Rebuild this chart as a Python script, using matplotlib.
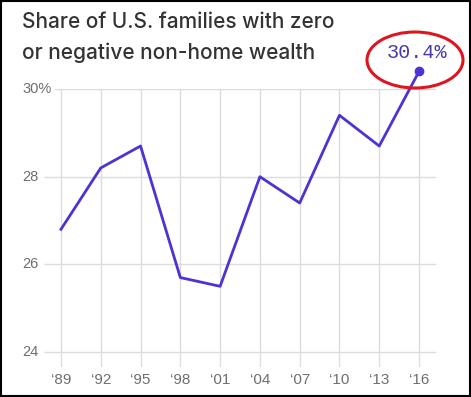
import matplotlib.pyplot as plt
from matplotlib.patches import Ellipse, Rectangle

# share of families with zero / negative non-home wealth (%)
years = [1989, 1992, 1995, 1998, 2001, 2004, 2007, 2010, 2013, 2016]
share = [26.8, 28.2, 28.7, 25.7, 25.5, 28.0, 27.4, 29.4, 28.7, 30.4]
year_labels = ["\u2018" + str(y)[2:] for y in years]
y_ticks = [24, 26, 28, 30]
y_labels = ["24", "26", "28", "30%"]

line_color = "#4b33d4"
grid_color = "#dcdcdc"
text_gray = "#6e6e6e"

fig = plt.figure(figsize=(4.71, 3.97), dpi=100)
ax = fig.add_axes([44 / 471, 30 / 397, 392 / 471, 278 / 397])
ax.set_xlim(1987.72, 2017.28)
ax.set_ylim(23.66, 30)
ax.axis("off")

# grid
ax.vlines(years, 23.66, 30, color=grid_color, lw=1, zorder=1)
for t in y_ticks:
    x0 = 1987.72 if t != 30 else 1988.5
    ax.hlines(t, x0, 2017.28, color=grid_color, lw=1, zorder=1)

ax.plot(years, share, color=line_color, lw=2, zorder=3, clip_on=False)
ax.plot(years[-1], share[-1], "o", color=line_color, ms=6, zorder=4, clip_on=False)

# tick labels
for t, lab in zip(y_ticks, y_labels):
    fig.text(22 / 471, ax.transData.transform((0, t))[1] / fig.bbox.height, lab,
             ha="left", va="center", fontsize=10.5, color=text_gray, family="Liberation Sans")
for x, lab in zip(years, year_labels):
    ax.text(x, 23.36, lab, ha="center", va="center", fontsize=11, color=text_gray,
            family="Liberation Sans")

fig.text(22 / 471, 1 - 12 / 397,
         "Share of U.S. families with zero\nor negative non-home wealth",
         ha="left", va="top", fontsize=15, color="#333333", family="Inter",
         weight="medium", linespacing=1.62)

fig.text(417 / 471, 1 - 52 / 397, "30.4%", ha="center", va="center", fontsize=14.5,
         color="#4a3aa8", family="Liberation Mono")
fig.patches.append(Ellipse((415 / 471, 1 - 60 / 397), 96 / 471, 56 / 397,
                           transform=fig.transFigure, fill=False, ec="#e0141e", lw=2.2))

fig.patches.append(Rectangle((0.002, 0.003), 0.995, 0.994, transform=fig.transFigure,
                             fill=False, ec="black", lw=1.5))

fig.savefig("out.png", dpi=100)
